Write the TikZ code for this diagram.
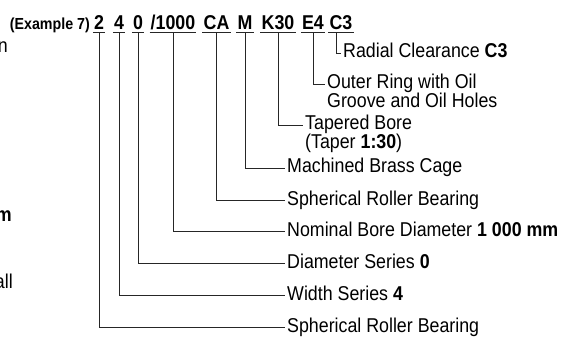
\documentclass[tikz,border=0pt]{standalone}
\usepackage{fontspec}
\setmainfont{Liberation Sans}[FakeStretch=0.89]
\begin{document}
\begin{tikzpicture}[x=1pt,y=-1pt,
  lbl/.style={anchor=west,inner xsep=2pt,inner ysep=0pt,font=\fontsize{20}{20}\selectfont,text height=14pt,text depth=4pt},
  code/.style={anchor=base,inner xsep=1pt,inner ysep=0pt,font=\fontsize{20}{20}\selectfont\bfseries},
  frag/.style={anchor=base east,inner sep=0pt,font=\fontsize{20}{20}\selectfont},
  ln/.style={line width=0.9pt,black!85}]
\useasboundingbox (0,0) rectangle (567,339);
% cut-off fragments of the neighbouring figure
\node[frag] (fn) at (8,53) {n};
\node[frag,font=\fontsize{20}{20}\selectfont\bfseries] (fm) at (12,221) {m};
\node[frag] (fa) at (13,288) {all};
% designation
\node[anchor=base east,inner sep=0pt,font=\fontsize{16}{16}\selectfont\bfseries] (ex) at (90,30) {(Example 7)};
\node[code] (c2) at (99,30) {2};
\node[code] (c4) at (119,30) {4};
\node[code] (c0) at (138,30) {0};
\node[code] (c1000) at (173,30) {/1000};
\node[code] (cCA) at (216.5,30) {CA};
\node[code] (cM) at (245,30) {M};
\node[code] (cK) at (278,30) {K30};
\node[code] (cE) at (313,30) {E4};
\node[code] (cC) at (341,30) {C3};
\foreach \n in {c2,c4,c0,c1000,cCA,cM,cK,cE,cC}
  \draw[ln] ([yshift=-2.5pt]\n.base west) -- ([yshift=-2.5pt]\n.base east);
% labels
\node[lbl] (lC) at (341,53) {Radial Clearance \textbf{C3}};
\node[lbl] (lE) at (325,84) {Outer Ring with Oil};
\node[lbl] (lE2) at (325,103) {Groove and Oil Holes};
\node[lbl] (lK) at (303,125) {Tapered Bore};
\node[lbl] (lK2) at (303,144) {(Taper \textbf{1:30})};
\node[lbl] (lM) at (285,168) {Machined Brass Cage};
\node[lbl] (lCA) at (285,200) {Spherical Roller Bearing};
\node[lbl] (l1000) at (285,231) {Nominal Bore Diameter \textbf{1 000 mm}};
\node[lbl] (l0) at (285,263) {Diameter Series \textbf{0}};
\node[lbl] (l4) at (285,295) {Width Series \textbf{4}};
\node[lbl] (l2) at (285,327) {Spherical Roller Bearing};
% connectors
\draw[ln] ([xshift=-5pt,yshift=-2.5pt]cC.base) |- (lC.west);
\draw[ln] ([yshift=-2.5pt]cE.base) |- (lE.west);
\draw[ln] ([yshift=-2.5pt]cK.base) |- (lK.west);
\draw[ln] ([yshift=-2.5pt]cM.base) |- (lM.west);
\draw[ln] ([yshift=-2.5pt]cCA.base) |- (lCA.west);
\draw[ln] ([yshift=-2.5pt]c1000.base) |- (l1000.west);
\draw[ln] ([yshift=-2.5pt]c0.base) |- (l0.west);
\draw[ln] ([yshift=-2.5pt]c4.base) |- (l4.west);
\draw[ln] ([yshift=-2.5pt]c2.base) |- (l2.west);
\end{tikzpicture}
\end{document}
